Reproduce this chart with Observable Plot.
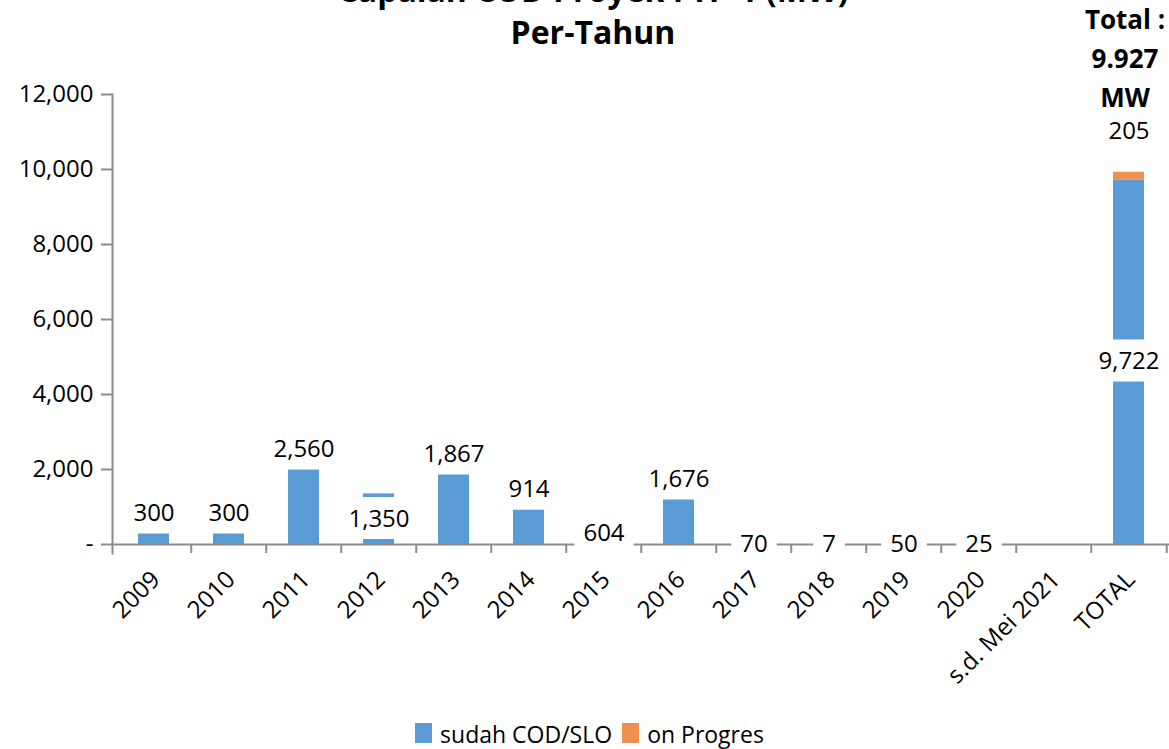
<!DOCTYPE html>
<html>
<head>
<meta charset="utf-8">
<script src="https://cdn.jsdelivr.net/npm/d3@7"></script>
<script src="https://cdn.jsdelivr.net/npm/@observablehq/plot@0.6"></script>
<style>
  body { margin: 0; background: #fff; font-family: "Open Sans", sans-serif; color: #000; }
  #wrap { position: relative; width: 1169px; height: 749px; overflow: hidden; background: #fff; }
  #chart { position: absolute; left: 0; top: 0; }
  #title { position: absolute; left: 293px; width: 600px; top: -31px; text-align: center;
           font-weight: 700; font-size: 32px; line-height: 42px; white-space: nowrap; }
  #total { position: absolute; left: 1025px; width: 200px; top: 0px; text-align: center;
           font-weight: 700; font-size: 26px; line-height: 39px; }
  #legend { position: absolute; left: 20px; width: 1149px; top: 720px; text-align: center;
            font-size: 23px; line-height: 28px; white-space: nowrap; }
  .sw { display: inline-block; width: 17px; height: 20px; margin-right: 8px; vertical-align: baseline; }
  .item { margin-right: 10px; }
</style>
</head>
<body>
<div id="wrap">
  <div id="chart"></div>
  <div id="title"></div>
  <div id="total"></div>
  <div id="legend"></div>
</div>
<script>
// ---- data ----
const categories = ["2009","2010","2011","2012","2013","2014","2015","2016","2017","2018","2019","2020","s.d. Mei 2021","TOTAL"];
const seriesNames = ["sudah COD/SLO", "on Progres"];
const seriesColors = ["#5B9BD5", "#EE9150"];
const sudahCOD  = [300, 300, 2560, 1350, 1867, 914, 604, 1676, 70, 7, 50, 25, null, 9722];
const onProgres = [null, null, null, null, null, null, null, null, null, null, null, null, null, 205];
// value (MW) at which each data label was placed in the original chart
const sudahLabelAt   = [827, 827, 2533, 680, 2400, 1480, 293, 1733, 0, 0, 0, 0, null, 4880];
const progresLabelAt = [null, null, null, null, null, null, null, null, null, null, null, null, null, 11013];
const yTicks = [0, 2000, 4000, 6000, 8000, 10000, 12000];
const titleLines = ["Capaian COD Proyek FTP-1 (MW)", "Per-Tahun"];
const totalLines = ["Total :", "9.927", "MW"];

// ---- build tables ----
const rows = [];
const labels = [];
categories.forEach((c, i) => {
  if (sudahCOD[i] != null) rows.push({cat: c, series: seriesNames[0], value: sudahCOD[i]});
  if (onProgres[i] != null) rows.push({cat: c, series: seriesNames[1], value: onProgres[i]});
  if (sudahCOD[i] != null) labels.push({cat: c, at: sudahLabelAt[i], text: d3.format(",")(sudahCOD[i])});
  if (onProgres[i] != null) labels.push({cat: c, at: progresLabelAt[i], text: d3.format(",")(onProgres[i])});
});

const W = 1169, H = 749, mL = 112, mR = 0, mT = 94, mB = 205;
const step = (W - mL - mR) / categories.length;
const gray = "#8c8c8c";
const labelFont = 24;
// category boundaries (tick marks between bands), the first one coincides with the y axis line
const boundaries = categories.slice(1).map(c => ({cat: c, side: -1}))
  .concat([{cat: categories[categories.length - 1], side: 1}]);

const measureCtx = document.createElement("canvas").getContext("2d");
measureCtx.font = `${labelFont}px "Open Sans"`;

function parsePos(el) {
  const t = el.getAttribute("transform") || "";
  const m = /translate\(\s*([-\d.e]+)[ ,]+([-\d.e]+)\s*\)/.exec(t);
  if (m) return [+m[1], +m[2]];
  return [+(el.getAttribute("x") || 0), +(el.getAttribute("y") || 0)];
}

const chart = Plot.plot({
  width: W, height: H,
  marginLeft: mL, marginRight: mR, marginTop: mT, marginBottom: mB,
  style: {fontFamily: "Open Sans", fontSize: "23px", color: "#000", background: "transparent", overflow: "visible"},
  x: {domain: categories, paddingInner: 0.59, paddingOuter: 0.295, label: null, axis: null},
  y: {domain: [0, 12000], label: null, axis: null},
  color: {domain: seriesNames, range: seriesColors},
  marks: [
    Plot.barY(rows, {x: "cat", y: "value", fill: "series", order: seriesNames}),
    Plot.ruleY([0], {stroke: gray, strokeWidth: 2}),
    Plot.frame({anchor: "left", stroke: gray, strokeWidth: 2, insetBottom: -9}),
    Plot.ruleX(boundaries, {x: "cat", stroke: gray, strokeWidth: 2,
      insetTop: H - mT - mB, insetBottom: -9,
      render: (index, scales, values, dims, ctx, next) => {
        const g = next(index, scales, values, dims, ctx);
        d3.select(g).selectAll("line").each(function(_, j) {
          const d = boundaries[index[j]];
          const x = +this.getAttribute("x1") + d.side * step / 2;
          this.setAttribute("x1", x); this.setAttribute("x2", x);
        });
        return g;
      }}),
    Plot.axisY({ticks: yTicks, tickSize: 11, tickFormat: () => "", stroke: gray, strokeWidth: 2}),
    Plot.axisY({ticks: yTicks, tickSize: 0, tickPadding: 19, fontSize: 24,
      tickFormat: d => d === 0 ? "-" : d3.format(",")(d)}),
    Plot.text(categories, {x: d => d, frameAnchor: "bottom", rotate: -45, textAnchor: "end",
      lineAnchor: "middle", dx: 2, dy: 31, fontSize: 24, fill: "#000"}),
    // data labels with an opaque white box behind them (as in the original)
    Plot.text(labels, {x: "cat", y: "at", text: "text", fontSize: labelFont, lineAnchor: "middle", fill: "#000",
      render: (index, scales, values, dims, ctx, next) => {
        const g = next(index, scales, values, dims, ctx);
        const texts = Array.from(g.querySelectorAll("text"));
        texts.forEach(el => {
          const [tx, ty] = parsePos(el);
          const w = measureCtx.measureText(el.textContent).width + 18;
          const r = document.createElementNS("http://www.w3.org/2000/svg", "rect");
          r.setAttribute("x", tx - w / 2);
          r.setAttribute("y", ty - 22);
          r.setAttribute("width", w);
          r.setAttribute("height", 42);
          r.setAttribute("fill", "white");
          el.parentNode.insertBefore(r, el);
        });
        return g;
      }})
  ]
});
document.getElementById("chart").appendChild(chart);

document.getElementById("title").innerHTML = titleLines.map(t => `<div>${t}</div>`).join("");
document.getElementById("total").innerHTML = totalLines.map(t => `<div>${t}</div>`).join("");
document.getElementById("legend").innerHTML = seriesNames.map((s, i) =>
  `<span class="item"><span class="sw" style="background:${seriesColors[i]}"></span>${s}</span>`).join("");
</script>
</body>
</html>
